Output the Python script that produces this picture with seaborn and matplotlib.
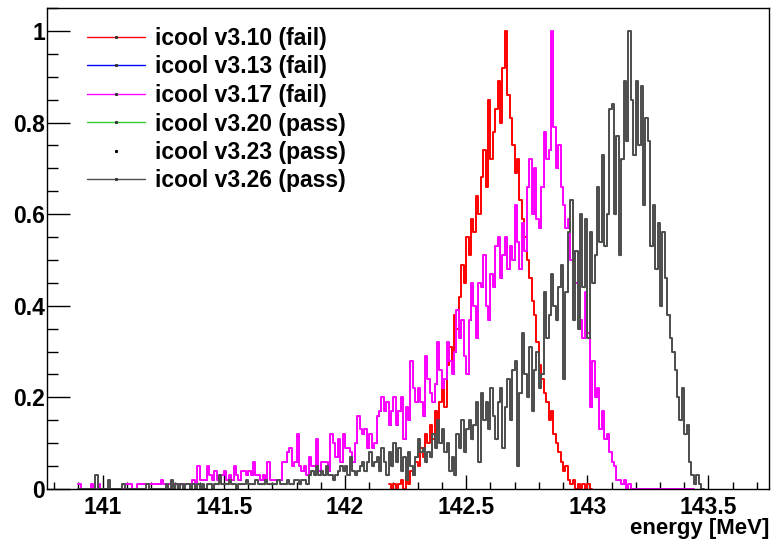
"""ICOOL regression check: normalised energy spectra per version."""

import matplotlib.pyplot as plt
import numpy as np
import pandas as pd
import seaborn as sns
from matplotlib.lines import Line2D
from matplotlib.ticker import FixedLocator, MultipleLocator

BIN_WIDTH = 0.01  # MeV

# bin contents in percent of the maximum, 0.01 MeV bins from *_START
V310_START = 142.18
V310 = [
    1, 0, 1, 0, 1, 2, 0, 3, 1, 4,
    3, 6, 5, 9, 7, 12, 10, 14, 11, 17,
    13, 19, 22, 18, 27, 31, 26, 38, 35, 42,
    49, 45, 55, 51, 59, 56, 64, 60, 68, 74,
    66, 85, 72, 78, 83, 89, 80, 92, 100, 86,
    81, 75, 69, 72, 63, 59, 55, 50, 46, 41,
    38, 32, 27, 24, 21, 19, 15, 17, 12, 10,
    8, 6, 4, 5, 2, 1, 2, 0, 1, 0,
    1, 0, 1, 0,
]

V317_START = 140.90
V317 = [
    1, 0, 0, 0, 0, 1, 0, 0, 1, 0,
    0, 0, 0, 0, 0, 0, 0, 0, 0, 1,
    1, 1, 0, 0, 1, 1, 1, 1, 1, 1,
    1, 1, 1, 1, 2, 1, 1, 1, 1, 1,
    1, 1, 1, 1, 1, 1, 1, 2, 1, 5,
    2, 2, 2, 5, 3, 2, 4, 2, 2, 3,
    4, 2, 3, 2, 5, 3, 2, 4, 4, 3,
    4, 3, 6, 3, 3, 2, 3, 2, 6, 2,
    2, 2, 2, 2, 6, 6, 8, 9, 5, 6,
    12, 5, 4, 5, 3, 7, 5, 5, 11, 4,
    6, 6, 6, 4, 12, 10, 7, 11, 6, 12,
    9, 9, 8, 6, 10, 16, 13, 12, 13, 9,
    12, 9, 10, 16, 17, 20, 17, 19, 14, 17,
    20, 14, 17, 20, 11, 18, 15, 28, 22, 19,
    22, 19, 16, 29, 24, 21, 19, 23, 32, 26,
    22, 24, 32, 28, 25, 30, 39, 33, 37, 29,
    25, 37, 45, 40, 33, 45, 44, 51, 40, 37,
    47, 44, 53, 55, 46, 51, 55, 48, 53, 50,
    62, 54, 48, 58, 52, 66, 72, 60, 70, 59,
    57, 66, 78, 72, 74, 100, 79, 70, 75, 66,
    62, 57, 59, 50, 52, 45, 44, 37, 33, 43,
    34, 18, 28, 20, 22, 13, 17, 11, 12, 8,
    6, 5, 2, 2, 1, 2, 0, 1, 0, 0,
    0, 0, 0, 0, 0, 0, 0, 0, 0, 0,
    0, 0, 0, 0, 0, 0, 0, 0, 0, 0,
    0, 0, 0, 0,
]
V313_START = V317_START
V313 = V317  # same spectrum, hidden below v3.17

V326_START = 140.90
V326 = [
    0, 0, 0, 0, 0, 0, 0, 3, 0, 0,
    0, 0, 2, 0, 0, 0, 0, 0, 1, 0,
    0, 0, 0, 0, 0, 0, 0, 0, 1, 0,
    0, 0, 0, 0, 0, 0, 1, 0, 2, 0,
    1, 0, 1, 0, 1, 1, 0, 1, 0, 1,
    0, 1, 0, 1, 1, 0, 1, 1, 3, 1,
    1, 1, 2, 1, 1, 0, 1, 1, 1, 2,
    1, 1, 1, 2, 1, 1, 1, 2, 1, 1,
    1, 1, 2, 1, 1, 1, 2, 1, 1, 2,
    2, 1, 2, 2, 1, 3, 4, 3, 5, 3,
    4, 3, 5, 3, 3, 2, 3, 4, 5, 4,
    5, 3, 7, 4, 3, 4, 5, 6, 4, 6,
    8, 5, 6, 7, 4, 9, 6, 3, 8, 5,
    10, 6, 9, 4, 7, 2, 8, 5, 3, 7,
    11, 8, 9, 6, 8, 7, 12, 9, 15, 10,
    13, 8, 10, 4, 7, 3, 12, 9, 15, 8,
    13, 15, 11, 14, 19, 6, 21, 15, 19, 13,
    22, 16, 11, 19, 22, 9, 18, 24, 15, 26,
    28, 5, 21, 34, 25, 20, 31, 17, 26, 30,
    22, 25, 43, 33, 38, 47, 40, 37, 44, 49,
    24, 43, 56, 63, 37, 52, 35, 60, 44, 59,
    33, 56, 45, 51, 66, 54, 73, 53, 60, 83,
    84, 60, 77, 51, 72, 89, 76, 100, 85, 73,
    89, 75, 88, 62, 81, 76, 53, 62, 48, 58,
    40, 56, 46, 38, 33, 30, 26, 20, 15, 22,
    12, 14, 6, 3, 1, 3, 1, 0,
]
V320_START = V326_START
V320 = V326  # passing versions agree
V323_START = V326_START
V323 = V326

LABELS = [
    "icool v3.10 (fail)",
    "icool v3.13 (fail)",
    "icool v3.17 (fail)",
    "icool v3.20 (pass)",
    "icool v3.23 (pass)",
    "icool v3.26 (pass)",
]
COLORS = ["#ff0000", "#0000ff", "#ff00ff", "#33cc33", "#000000", "#4d4d4d"]

X_TICKS = [141, 141.5, 142, 142.5, 143, 143.5]
Y_TICKS = [0, 0.2, 0.4, 0.6, 0.8, 1]


def _bins(start, vals):
    n = len(vals)
    frame = pd.DataFrame({
        "energy": start + BIN_WIDTH * (np.arange(n) + 0.5),
        "content": np.asarray(vals, dtype=float) / 100.0,
    })
    return (start, start + BIN_WIDTH * n), n, frame


def _draw_hist(ax, start, vals, color, lw=1.4):
    brange, n, frame = _bins(start, vals)
    sns.histplot(
        data=frame, x="energy", weights="content", bins=n, binrange=brange,
        element="step", fill=False, color=color, linewidth=lw, ax=ax,
    )


sns.set_theme(style="white")
plt.rcParams["font.family"] = ["Liberation Sans", "DejaVu Sans"]
plt.rcParams["font.weight"] = "bold"
plt.rcParams["text.color"] = "black"
plt.rcParams["axes.labelcolor"] = "black"

fig = plt.figure(figsize=(7.71, 5.39), dpi=100)
ax = fig.add_axes([47 / 771, 50 / 539, 722 / 771, 481 / 539])

# hidden versions go underneath with thinner strokes
_draw_hist(ax, V310_START, V310, COLORS[0])
_draw_hist(ax, V313_START, V313, COLORS[1], lw=0.6)
_draw_hist(ax, V317_START, V317, COLORS[2])
_draw_hist(ax, V320_START, V320, COLORS[3], lw=0.6)
_, _, f323 = _bins(V323_START, V323)
sns.scatterplot(data=f323, x="energy", y="content", color=COLORS[4], s=1,
                linewidth=0, ax=ax)
_draw_hist(ax, V326_START, V326, COLORS[5])

ax.set_xlim(140.77, 143.75)
ax.set_ylim(0, 1.05)
ax.set_xlabel("")
ax.set_ylabel("")

ax.xaxis.set_major_locator(FixedLocator(X_TICKS))
ax.set_xticklabels([f"{v:g}" for v in X_TICKS])
ax.xaxis.set_minor_locator(MultipleLocator(0.1))
ax.yaxis.set_major_locator(FixedLocator(Y_TICKS))
ax.set_yticklabels([f"{v:g}" for v in Y_TICKS])
ax.yaxis.set_minor_locator(MultipleLocator(0.05))

ax.tick_params(axis="both", which="both", direction="in", colors="black",
               labelcolor="black", labelsize=16.5, width=1,
               bottom=True, left=True, top=False, right=False)
ax.tick_params(axis="x", which="major", length=10, pad=5)
ax.tick_params(axis="x", which="minor", length=5)
ax.tick_params(axis="y", which="major", length=16.5, pad=1.5)
ax.tick_params(axis="y", which="minor", length=8)
for lab in ax.get_xticklabels() + ax.get_yticklabels():
    lab.set_fontweight("bold")
for sp in ax.spines.values():
    sp.set_color("black")
    sp.set_linewidth(1.0)

fig.text(769 / 771, 5 / 539, "energy [MeV]", ha="right", va="baseline",
         fontsize=16, fontweight="bold", color="black")

handles = []
for i, col in enumerate(COLORS):
    if i == 4:
        handles.append(Line2D([], [], linestyle="none", marker="s",
                              markersize=1.2, color=col))
    else:
        handles.append(Line2D([], [], color=col, linewidth=1.0, marker="s",
                              markersize=1.2, markerfacecolor="#333333",
                              markeredgecolor="#333333"))
leg = ax.legend(
    handles, LABELS, loc="upper left",
    bbox_to_anchor=(87 / 771, 1 - 27 / 539), bbox_transform=fig.transFigure,
    frameon=False, prop={"weight": "bold", "size": 16.5},
    handlelength=2.55, handletextpad=0.42, labelspacing=0.24,
    borderpad=0, borderaxespad=0, numpoints=1,
)
for txt in leg.get_texts():
    txt.set_color("black")

fig.savefig("out.png", dpi=100)
plt.close(fig)
